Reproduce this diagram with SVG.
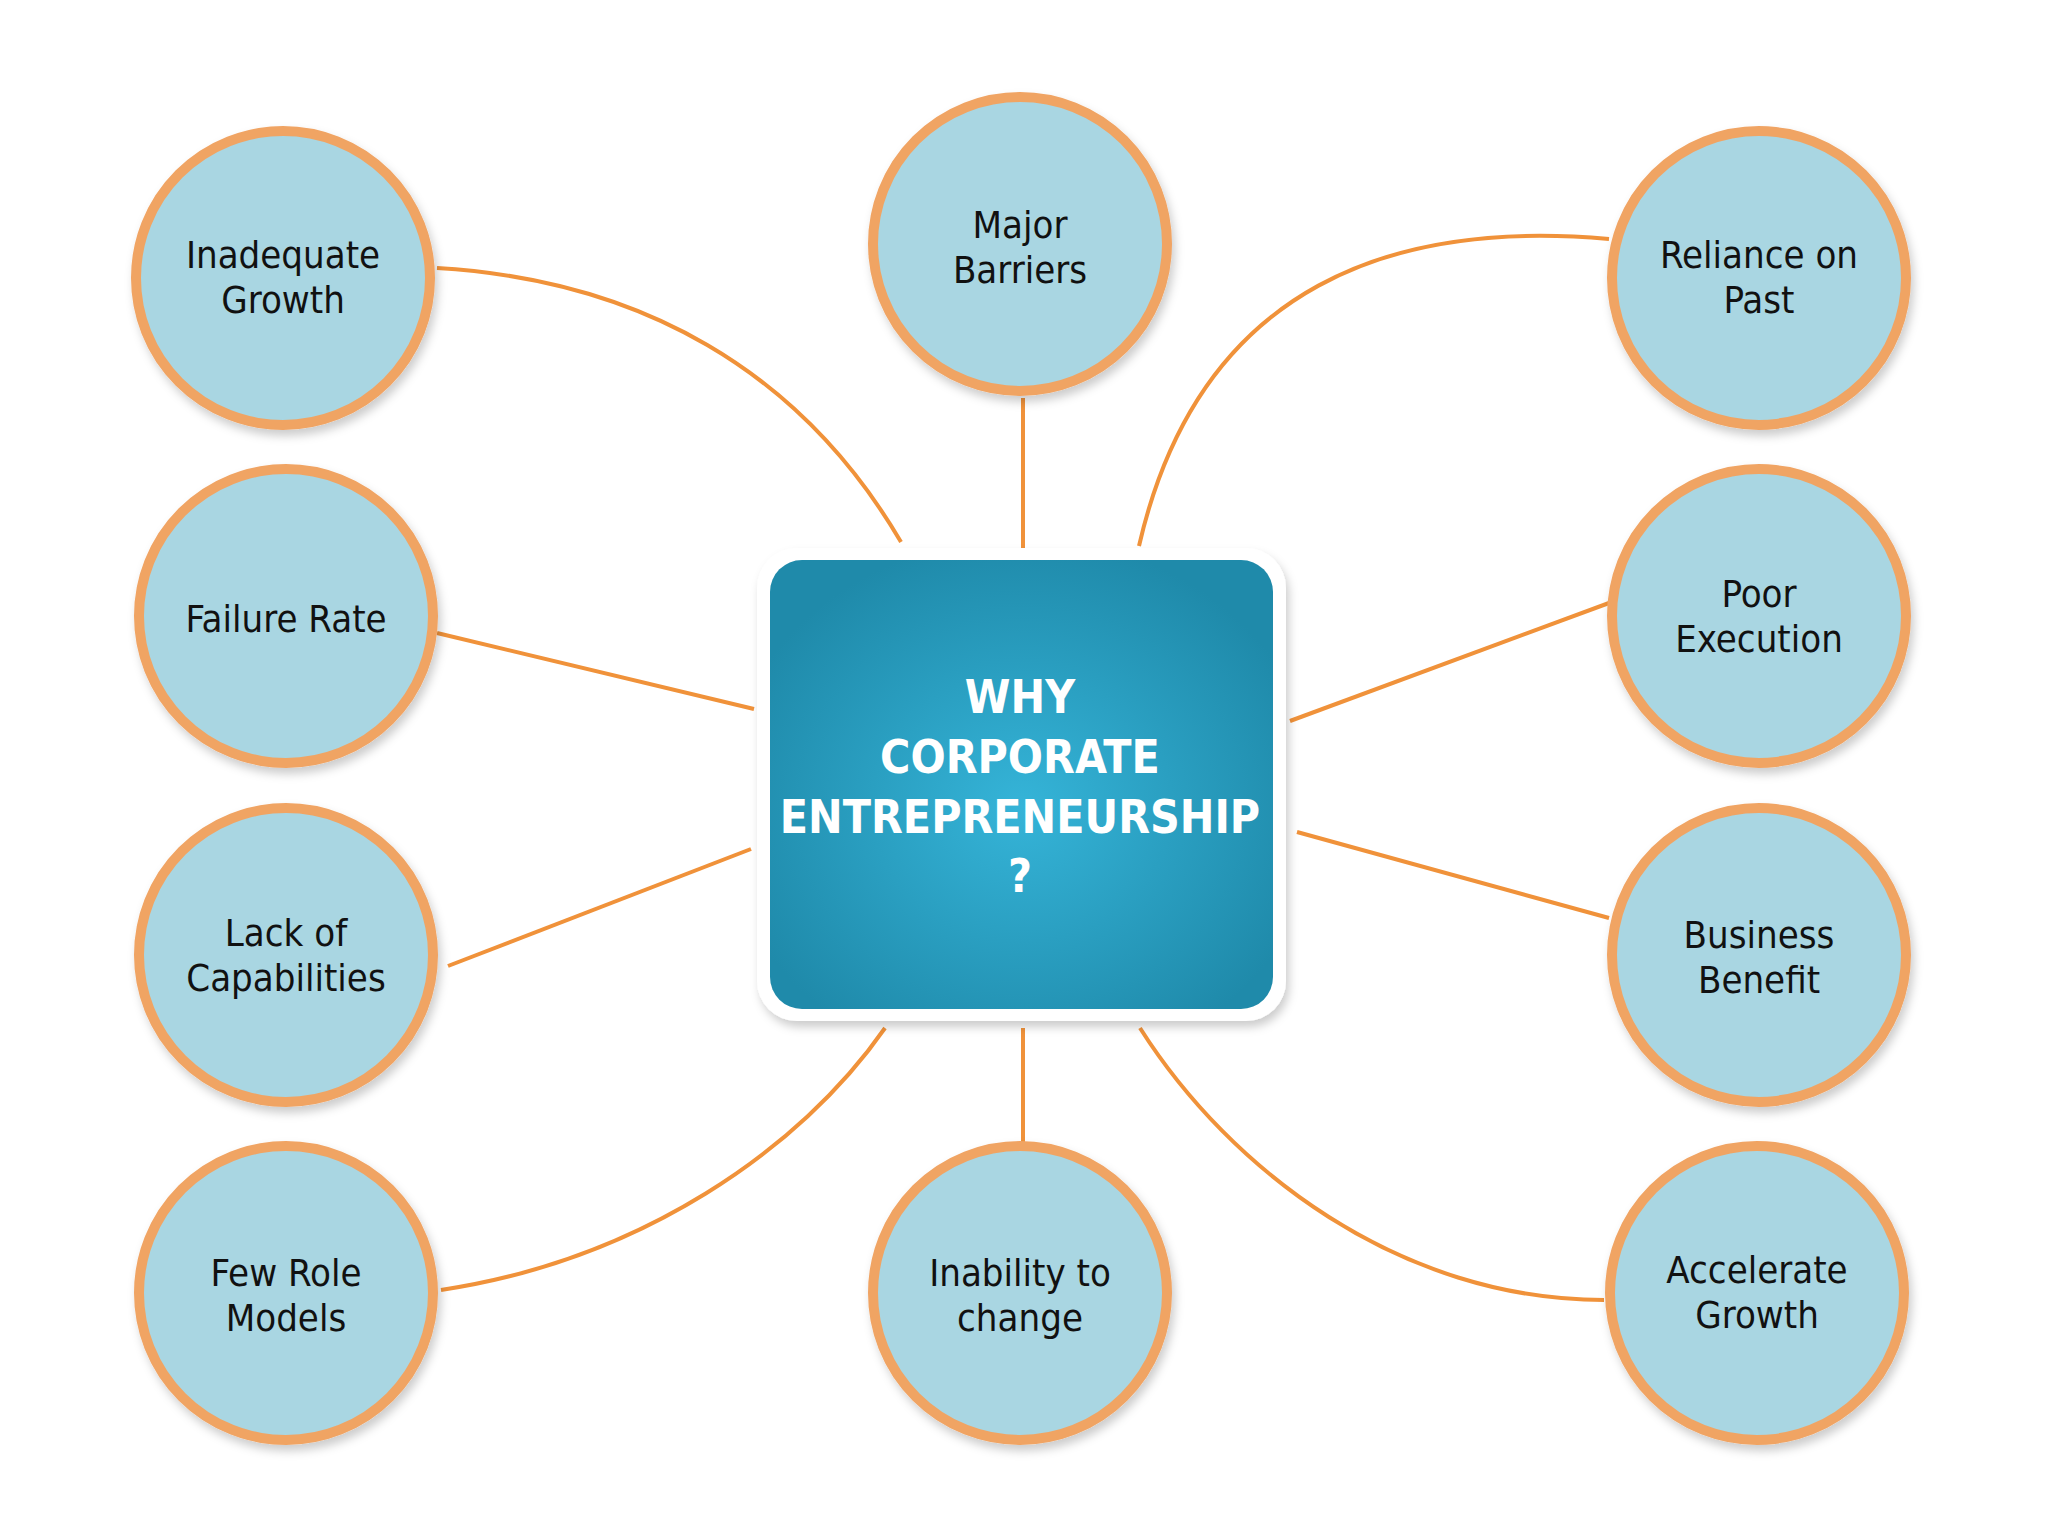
<svg xmlns="http://www.w3.org/2000/svg" width="2048" height="1536" viewBox="0 0 2048 1536">
<defs>
<radialGradient id="g" cx="0.5" cy="0.55" r="0.6"><stop offset="0" stop-color="#35b4d8"/><stop offset="1" stop-color="#1f8aaa"/></radialGradient>
<filter id="sh" x="-20%" y="-20%" width="140%" height="140%"><feDropShadow dx="3" dy="6" stdDeviation="5" flood-color="#000" flood-opacity="0.2"/></filter>
</defs>
<style>
.c{fill:#a9d6e2;stroke:#f0a464;stroke-width:10;filter:url(#sh)}
.t{font-family:"DejaVu Sans Condensed","Liberation Sans",sans-serif;font-size:38px;fill:#111;text-anchor:middle}
.l{fill:none;stroke:#f0923a;stroke-width:4}
.m{font-family:"DejaVu Sans Condensed","Liberation Sans",sans-serif;font-size:46px;font-weight:bold;fill:#fff;text-anchor:middle}
</style>
<rect width="2048" height="1536" fill="#fff"/>
<g id="connectors">
<path class="l" d="M437,268 C640,280 800,370 901,542"/>
<path class="l" d="M1023,398 V548"/>
<path class="l" d="M1609,239 C1400,220 1200,280 1139,546"/>
<path class="l" d="M437,633 L754,709"/>
<path class="l" d="M1609,603 L1290,721"/>
<path class="l" d="M448,966 L751,849"/>
<path class="l" d="M1297,832 L1609,918"/>
<path class="l" d="M441,1290 C640,1260 800,1150 885,1028"/>
<path class="l" d="M1023,1028 V1149"/>
<path class="l" d="M1140,1028 C1230,1170 1400,1300 1604,1300"/>
</g>
<g id="center">
<rect x="757" y="548" width="529" height="473" rx="40" fill="#fff" filter="url(#sh)"/>
<rect x="770" y="560" width="503" height="449" rx="32" fill="url(#g)"/>
<text class="m" x="1020" y="713">WHY</text>
<text class="m" x="1020" y="773">CORPORATE</text>
<text class="m" x="1020" y="833">ENTREPRENEURSHIP</text>
<text class="m" x="1020" y="892">?</text>
</g>
<g id="n1"><circle class="c" cx="283" cy="278" r="147"/><text class="t" x="283" y="268">Inadequate</text><text class="t" x="283" y="313">Growth</text></g>
<g id="n2"><circle class="c" cx="1020" cy="244" r="147"/><text class="t" x="1020" y="238">Major</text><text class="t" x="1020" y="283">Barriers</text></g>
<g id="n3"><circle class="c" cx="1759" cy="278" r="147"/><text class="t" x="1759" y="268">Reliance on</text><text class="t" x="1759" y="313">Past</text></g>
<g id="n4"><circle class="c" cx="286" cy="616" r="147"/><text class="t" x="286" y="632">Failure Rate</text></g>
<g id="n5"><circle class="c" cx="1759" cy="616" r="147"/><text class="t" x="1759" y="607">Poor</text><text class="t" x="1759" y="652">Execution</text></g>
<g id="n6"><circle class="c" cx="286" cy="955" r="147"/><text class="t" x="286" y="946">Lack of</text><text class="t" x="286" y="991">Capabilities</text></g>
<g id="n7"><circle class="c" cx="1759" cy="955" r="147"/><text class="t" x="1759" y="948">Business</text><text class="t" x="1759" y="993">Benefit</text></g>
<g id="n8"><circle class="c" cx="286" cy="1293" r="147"/><text class="t" x="286" y="1286">Few Role</text><text class="t" x="286" y="1331">Models</text></g>
<g id="n9"><circle class="c" cx="1020" cy="1293" r="147"/><text class="t" x="1020" y="1286">Inability to</text><text class="t" x="1020" y="1331">change</text></g>
<g id="n10"><circle class="c" cx="1757" cy="1293" r="147"/><text class="t" x="1757" y="1283">Accelerate</text><text class="t" x="1757" y="1328">Growth</text></g>
</svg>
